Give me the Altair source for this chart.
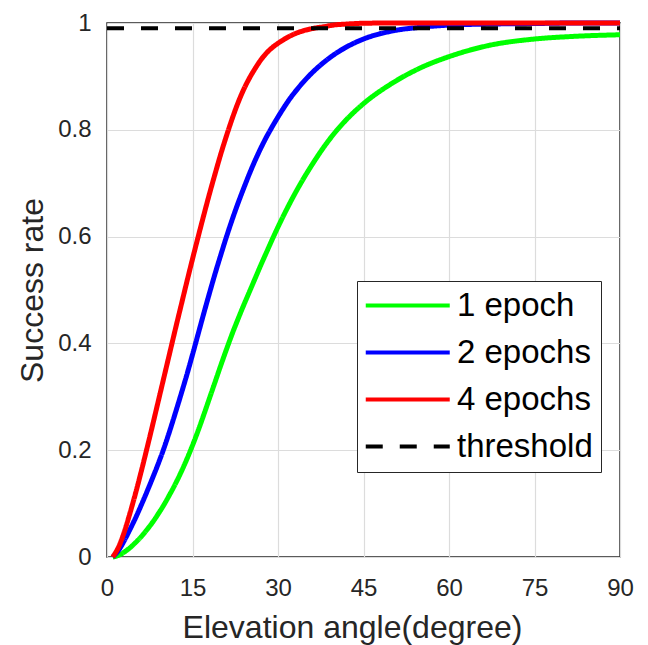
import altair as alt
import pandas as pd

angle = [1, 2, 3, 4, 5, 6, 7, 8, 9, 10, 11, 12, 13, 14, 15, 16, 17, 18, 19, 20,
         21, 22, 23, 24, 25, 26, 27, 28, 29, 30, 31, 32, 33, 34, 36, 38, 40, 42,
         45, 50, 55, 60, 67, 75, 82, 90]
one_epoch = [0.0, 0.003, 0.009, 0.017, 0.027, 0.038, 0.051, 0.065, 0.081, 0.098,
             0.117, 0.137, 0.159, 0.183, 0.209, 0.237, 0.267, 0.298, 0.329, 0.360,
             0.390, 0.419, 0.446, 0.472, 0.497, 0.522, 0.547, 0.571, 0.595, 0.618,
             0.640, 0.661, 0.681, 0.700, 0.735, 0.767, 0.795, 0.819, 0.849, 0.887,
             0.916, 0.937, 0.958, 0.970, 0.975, 0.978]
two_epochs = [0.0, 0.012, 0.030, 0.051, 0.073, 0.097, 0.122, 0.148, 0.175, 0.204,
              0.236, 0.270, 0.305, 0.341, 0.379, 0.418, 0.457, 0.495, 0.532, 0.567,
              0.601, 0.633, 0.663, 0.691, 0.718, 0.743, 0.766, 0.787, 0.806, 0.824,
              0.841, 0.857, 0.871, 0.884, 0.907, 0.926, 0.942, 0.955, 0.970, 0.985,
              0.992, 0.996, 0.998, 0.999, 1.0, 1.0]
four_epochs = [0.0, 0.018, 0.046, 0.081, 0.119, 0.160, 0.203, 0.247, 0.292, 0.337,
               0.382, 0.427, 0.471, 0.515, 0.558, 0.600, 0.641, 0.681, 0.719, 0.756,
               0.790, 0.822, 0.851, 0.876, 0.897, 0.915, 0.931, 0.944, 0.954, 0.962,
               0.969, 0.975, 0.980, 0.984, 0.9895, 0.993, 0.9965, 0.998, 0.9995, 1.0,
               1.0, 1.0, 1.0, 1.0, 1.0, 1.0]
threshold_x = [0, 90]
threshold_y = [0.99, 0.99]

series_names = ["1 epoch", "2 epochs", "4 epochs", "threshold"]
series_colors = ["#00ff00", "#0000ff", "#ff0000", "#000000"]
series_dash = [[1, 0], [1, 0], [1, 0], [17, 17]]

x_ticks = [0, 15, 30, 45, 60, 75, 90]
y_ticks = [0, 0.2, 0.4, 0.6, 0.8, 1]

rows = []
for name, vals in zip(series_names[:3], [one_epoch, two_epochs, four_epochs]):
    for a, v in zip(angle, vals):
        rows.append({"angle": a, "rate": v, "series": name})
curves_df = pd.DataFrame(rows)
thr_df = pd.DataFrame({"angle": threshold_x, "rate": threshold_y,
                       "series": series_names[3]})

FONT = "Liberation Sans"


def make_legend():
    return alt.Legend(title=None, orient="none", legendX=250, legendY=258,
                      symbolType="M-1.5,0H6.5", symbolSize=441,
                      symbolStrokeWidth=4,
                      labelFontSize=33, labelFont=FONT, labelColor="#000000",
                      labelOffset=59, labelLimit=300, rowPadding=13,
                      padding=8, strokeColor="#262626", fillColor="#ffffff")


x_enc = alt.X("angle:Q", scale=alt.Scale(domain=[0, 90], nice=False),
              axis=alt.Axis(values=x_ticks, title="Elevation angle(degree)",
                            labelPadding=19, labelFlush=False,
                            titleX=245, titleY=80,
                            titleBaseline="alphabetic", titleAlign="center"))
y_enc = alt.Y("rate:Q", scale=alt.Scale(domain=[0, 1], nice=False),
              axis=alt.Axis(values=y_ticks, format="~g", title="Success rate",
                            labelPadding=16, labelFlush=False,
                            titleX=-65, titleY=267,
                            titleBaseline="alphabetic", titleAlign="center"))
color_enc = alt.Color("series:N",
                      scale=alt.Scale(domain=series_names, range=series_colors),
                      legend=make_legend())
dash_enc = alt.StrokeDash("series:N",
                          scale=alt.Scale(domain=series_names, range=series_dash),
                          legend=make_legend())

curves = alt.Chart(curves_df).mark_line(strokeWidth=5, interpolate="monotone").encode(
    x=x_enc, y=y_enc, color=color_enc, strokeDash=dash_enc,
    detail="series:N")
thresh = alt.Chart(thr_df).mark_line(strokeWidth=4).encode(
    x=x_enc, y=y_enc, color=color_enc, strokeDash=dash_enc)

chart = alt.layer(curves, thresh).properties(
    width=513, height=534,
    padding={"left": 99, "top": 15, "right": 20, "bottom": 88},
    autosize=alt.AutoSizeParams(type="none"),
    background="#ffffff",
).configure_view(
    stroke="#262626", strokeWidth=1.5
).configure_axis(
    grid=True, gridColor="#dcdcdc", gridWidth=1.2, domain=False, ticks=False,
    labelFont=FONT, labelFontSize=24, labelColor="#262626",
    titleFont=FONT, titleFontSize=32, titleColor="#262626",
    titleFontWeight="normal",
)

chart.save("out.html", embed_options={"renderer": "svg", "actions": False})
